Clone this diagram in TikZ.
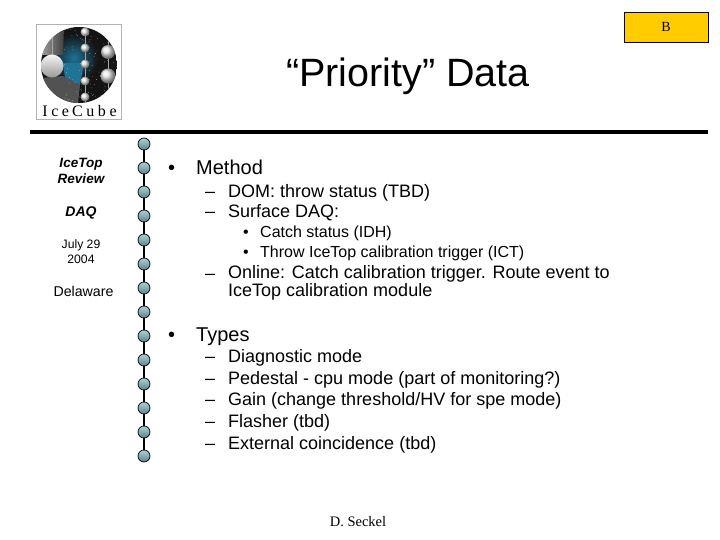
\documentclass[tikz,border=0pt]{standalone}
\usepackage{fontspec}
\setmainfont{Liberation Sans}
\newfontfamily\seriffont{Liberation Serif}
\definecolor{tagyellow}{RGB}{255,204,0}
\definecolor{beadtop}{RGB}{178,208,212}
\definecolor{beadlow}{RGB}{84,134,140}
\definecolor{logoblue}{RGB}{30,115,150}
\tikzset{
  bead/.style={circle, draw=black, line width=0.7pt, minimum size=12pt, inner sep=0pt,
    top color=beadtop, bottom color=beadlow},
  sidetext/.style={align=center, inner sep=0pt},
  itemone/.style={anchor=base west, inner sep=0pt, font=\fontsize{20}{22}\selectfont},
  itemtwo/.style={anchor=base west, inner sep=0pt, font=\fontsize{18}{18}\selectfont},
  itemthree/.style={anchor=base west, inner sep=0pt, font=\fontsize{16}{16}\selectfont},
  orb/.style={ball color=white!80!gray, draw=none}
}
\begin{document}
\begin{tikzpicture}[x=1pt, y=-1pt]
\useasboundingbox (0,0) rectangle (720,540);
% tag
\node [draw=black, line width=0.8pt, fill=tagyellow, minimum width=84pt, minimum height=30pt, inner sep=0pt,
  font=\seriffont\fontsize{14}{14}\selectfont] (tag) at (666,27) {B};
% title
\node [font=\fontsize{39.5}{40}\selectfont, inner sep=0pt, anchor=base] (title) at (408,87) {“Priority” Data};
\draw [line width=4pt] (30,132) -- (708,132);
% logo
\draw [draw=gray!60, fill=white, line width=0.5pt] (36.5,24.5) rectangle (121,119);
\begin{scope}
\clip (79,65) circle [radius=38];
\fill [black!92] (41,27) rectangle (117,103);
\shade [inner color=logoblue, outer color=black!92] (74,58) circle [radius=24];
\shade [left color=gray!75, right color=black!75] (41,27) -- (64,27) -- (63,55) -- (41,55) -- cycle;
\fill [logoblue] (63,63) -- (84,63) -- (80,85) -- (65,78) -- cycle;
\fill [black!68] (41,78) -- (63,76) -- (80,85) -- (78,103) -- (41,103) -- cycle;
\pgfmathsetseed{29}
\foreach \s in {1,...,110}
  \fill [white!85!logoblue] ({64+53*rnd},{27+76*rnd}) circle [radius=0.3];
\draw [gray!70, line width=0.6pt] (85,27) -- (85,103);
\draw [gray!70, line width=0.6pt] (108,27) -- (108,103);
\draw [gray!70, line width=0.6pt] (52,27) -- (52,60);
\shade [top color=white!92!gray, bottom color=gray!80] (52,66) circle [radius=11.5];
\foreach \y in {32,48,64,81,97}
  \shade [orb] (85,\y) circle [radius=4.5];
\shade [orb] (108,52) circle [radius=7];
\shade [orb] (108,76) circle [radius=7.5];
\end{scope}
\node [font=\seriffont\fontsize{16}{16}\selectfont, inner sep=0pt, anchor=base] (logotext) at (79.5,117)
  {I\hspace{3.6pt}c\hspace{3.6pt}e\hspace{3pt}C\hspace{3.6pt}u\hspace{3.6pt}b\hspace{3.6pt}e};
% beads
\foreach \i [evaluate=\i as \y using 120+24*\i] in {1,...,14}
  \node [bead] (bead\i) at (144,\y) {};
\foreach \i [remember=\i as \j (initially 1)] in {2,...,14}
  \draw [line width=2pt] (bead\j) -- (bead\i);
% left column
\node [sidetext, font=\bfseries\itshape\fontsize{13.5}{16}\selectfont] (review) at (81,171) {IceTop\\Review};
\node [sidetext, font=\bfseries\itshape\fontsize{14}{16}\selectfont] (daq) at (81,213) {DAQ};
\node [sidetext, font=\fontsize{12.2}{15}\selectfont] (date) at (81,252) {July 29\\2004};
\node [sidetext, font=\fontsize{14.2}{15}\selectfont] (place) at (83.5,291) {Delaware};
% method
\node [itemone] (bma) at (168,175) {•};
\node [itemone] (method) at (196,175) {Method};
\node [itemtwo] (dsha) at (205,197) {–};
\node [itemtwo] (dom) at (228,197) {DOM: throw status (TBD)};
\node [itemtwo] (dshb) at (205,218) {–};
\node [itemtwo] (surface) at (228,218) {Surface DAQ:};
\node [itemthree] (bca) at (243,237) {•};
\node [itemthree] (catch) at (260,237) {Catch status (IDH)};
\node [itemthree] (bth) at (243,257) {•};
\node [itemthree] (thro) at (260,257) {Throw IceTop calibration trigger (ICT)};
\node [itemtwo] (dshc) at (205,279) {–};
\node [anchor=north west, inner sep=0pt, align=left, font=\fontsize{18}{16}\selectfont] (online) at (228,265.5)
  {Online: Catch calibration trigger. Route event to\\IceTop calibration module};
% types
\node [itemone] (bty) at (168,341) {•};
\node [itemone] (types) at (196,341) {Types};
\foreach \y/\txt [count=\i] in {362/{Diagnostic mode}, 384/{Pedestal - cpu mode (part of monitoring?)},
    405/{Gain (change threshold/HV for spe mode)}, 427/{Flasher (tbd)}, 449/{External coincidence (tbd)}} {
  \node [itemtwo] (dash\i) at (205,\y) {–};
  \node [itemtwo] (type\i) at (228,\y) {\txt};
}
\node [font=\seriffont\fontsize{14.5}{14}\selectfont, inner sep=0pt, anchor=base] (author) at (358,526) {D. Seckel};
\end{tikzpicture}
\end{document}
